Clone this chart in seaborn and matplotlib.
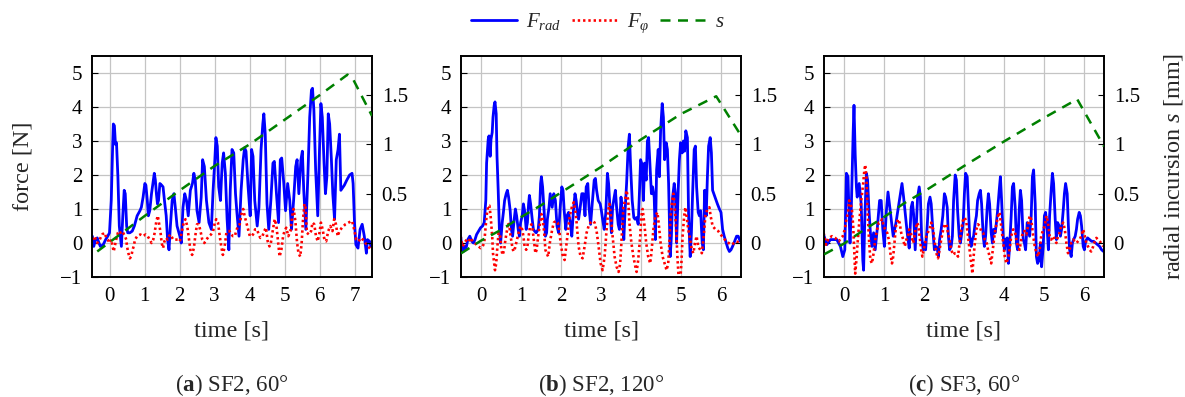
import matplotlib
matplotlib.use("Agg")
import matplotlib.pyplot as plt
from matplotlib.lines import Line2D
import seaborn as sns

# ---------------- data ----------------
# panel (a) SF2, 60 deg
a_t_rad = [-0.49,-0.45,-0.40,-0.35,-0.30,-0.26,-0.18,-0.11,-0.05,0.0,0.05,0.09,0.11,0.14,0.17,0.20,0.24,0.28,0.31,0.34,
           0.38,0.42,0.45,0.49,0.52,0.58,0.65,0.71,0.79,0.87,0.91,0.96,1.01,1.04,1.08,1.11,1.15,1.20,1.24,1.28,
           1.31,1.34,1.37,1.40,1.44,1.49,1.53,1.57,1.62,1.66,1.70,1.74,1.79,1.84,1.88,1.93,2.01,2.05,2.10,2.15,
           2.20,2.25,2.31,2.37,2.41,2.45,2.50,2.56,2.62,2.66,2.71,2.77,2.84,2.91,2.96,3.01,3.04,3.08,3.12,3.17,
           3.22,3.26,3.31,3.36,3.41,3.45,3.50,3.55,3.60,3.64,3.70,3.76,3.82,3.86,3.90,3.96,4.02,4.06,4.10,4.15,
           4.22,4.27,4.33,4.38,4.41,4.45,4.50,4.55,4.61,4.67,4.71,4.77,4.83,4.88,4.92,4.98,5.03,5.09,5.15,5.20,
           5.26,5.32,5.36,5.41,5.47,5.51,5.55,5.61,5.67,5.72,5.77,5.80,5.84,5.89,5.95,6.00,6.04,6.08,6.13,6.17,
           6.21,6.25,6.29,6.34,6.38,6.43,6.48,6.53,6.57,6.61,6.71,6.78,6.86,6.93,6.96,7.00,7.04,7.10,7.16,7.22,
           7.28,7.34,7.37,7.43,7.47]
a_rad = [0.2,-0.1,0.1,0.15,0.0,-0.1,-0.05,0.1,0.2,0.3,1.25,2.85,3.5,3.45,2.9,2.95,1.95,0.5,0.2,-0.1,
         0.8,1.55,1.45,0.5,0.3,0.3,0.35,0.5,0.8,0.95,1.05,1.35,1.75,1.7,1.25,0.8,0.95,1.45,1.75,2.05,
         1.85,1.45,1.15,1.25,1.75,1.7,1.65,1.25,0.8,0.1,-0.2,0.5,1.25,1.45,1.05,0.5,0.2,0.0,1.05,1.45,
         1.25,0.8,1.55,1.75,2.05,1.85,0.95,0.6,1.35,2.45,2.25,1.25,0.6,0.4,1.55,2.45,3.1,2.85,1.65,1.25,
         2.35,2.65,2.05,0.7,-0.2,1.55,2.75,2.65,1.45,0.9,0.2,1.55,2.45,2.8,2.7,1.65,0.8,2.75,2.55,1.25,
         0.5,1.05,2.75,3.5,3.8,3.2,1.15,0.4,1.25,2.35,2.4,1.45,0.6,2.45,2.5,1.75,0.95,1.75,1.25,0.4,
         1.25,2.25,2.45,1.45,2.45,2.7,1.55,0.4,2.05,3.7,4.5,4.55,3.9,2.15,0.8,2.75,4.1,3.7,2.35,1.45,
         1.95,3.8,3.5,2.45,1.45,0.7,2.45,2.75,3.2,1.55,1.7,1.85,2.0,2.05,1.75,0.6,-0.05,-0.15,0.4,0.55,
         0.2,-0.3,0.1,0.05,-0.1]
a_t_phi = [-0.49,-0.43,-0.35,-0.28,-0.21,-0.14,-0.09,-0.05,0.0,0.05,0.09,0.12,0.15,0.19,0.24,0.28,0.31,0.35,0.39,0.44,
           0.48,0.50,0.54,0.58,0.62,0.66,0.69,0.73,0.79,0.88,0.96,1.03,1.09,1.15,1.20,1.25,1.29,1.34,1.38,1.42,
           1.46,1.49,1.53,1.57,1.62,1.66,1.70,1.74,1.82,1.88,1.95,2.01,2.07,2.12,2.17,2.22,2.26,2.31,2.36,2.41,
           2.45,2.50,2.55,2.60,2.65,2.71,2.77,2.84,2.90,2.96,3.01,3.05,3.10,3.15,3.20,3.24,3.29,3.34,3.39,3.43,
           3.48,3.53,3.58,3.62,3.67,3.72,3.77,3.82,3.86,3.91,3.96,4.01,4.05,4.10,4.16,4.22,4.26,4.31,4.37,4.42,
           4.47,4.52,4.57,4.61,4.67,4.72,4.77,4.81,4.86,4.91,4.96,5.00,5.05,5.11,5.17,5.22,5.26,5.31,5.36,5.40,
           5.45,5.49,5.53,5.57,5.60,5.64,5.70,5.76,5.80,5.85,5.90,5.95,6.00,6.04,6.09,6.14,6.19,6.25,6.31,6.37,
           6.42,6.47,6.52,6.57,6.64,6.74,6.83,6.93,6.99,7.05,7.12,7.18,7.24,7.31,7.37,7.43,7.47]
a_phi = [0.1,0.2,0.0,0.1,0.25,0.3,0.15,0.1,0.0,0.1,-0.1,-0.25,-0.1,0.1,0.3,0.35,0.3,0.35,0.3,0.2,
         0.1,-0.1,-0.3,-0.45,-0.4,-0.2,-0.1,0.1,0.2,0.25,0.2,0.25,0.2,0.1,0.0,0.1,0.3,0.65,0.8,0.55,
         0.3,0.0,-0.15,0.05,0.15,0.1,0.2,0.25,0.1,0.1,0.1,0.05,0.35,0.6,0.7,0.5,0.2,-0.2,-0.35,-0.15,
         0.2,0.55,0.55,0.35,0.1,0.0,0.1,0.2,0.25,0.35,0.6,0.7,0.6,0.2,-0.15,-0.35,-0.1,0.3,0.35,0.35,
         0.25,0.2,0.2,0.35,0.5,0.55,0.85,1.0,0.8,0.6,0.4,0.2,0.2,0.25,0.4,0.4,0.25,0.15,0.2,0.35,
         0.45,0.05,-0.1,0.0,0.4,0.7,0.5,0.1,-0.4,-0.2,0.2,0.35,0.45,0.2,0.35,0.8,1.0,0.65,0.0,-0.3,
         -0.4,0.0,0.7,1.15,1.05,0.3,0.25,0.35,0.6,0.55,0.2,0.05,0.3,0.6,0.4,0.1,0.05,0.35,0.5,0.35,
         0.7,0.55,0.2,0.35,0.45,0.55,0.6,0.65,0.4,0.1,0.05,0.15,0.1,0.0,-0.05,-0.15,-0.2]
a_t_s = [-0.35, 1.0, 2.0, 3.0, 4.0, 5.0, 6.0, 6.8, 6.95, 7.5]
a_s = [-0.09, 0.27, 0.53, 0.78, 1.00, 1.25, 1.50, 1.71, 1.67, 1.29]

# panel (b) SF2, 120 deg
b_t_rad = [-0.51,-0.48,-0.44,-0.41,-0.38,-0.33,-0.28,-0.23,-0.19,-0.15,-0.11,-0.06,-0.01,0.04,0.08,0.12,0.14,0.18,0.20,0.23,
           0.25,0.28,0.30,0.33,0.35,0.38,0.40,0.43,0.46,0.49,0.53,0.56,0.59,0.63,0.66,0.69,0.73,0.76,0.79,0.83,
           0.86,0.89,0.93,0.96,0.99,1.03,1.06,1.09,1.13,1.16,1.19,1.21,1.24,1.28,1.31,1.34,1.38,1.43,1.46,1.49,
           1.51,1.54,1.58,1.61,1.64,1.66,1.70,1.73,1.78,1.82,1.86,1.90,1.94,1.98,2.02,2.05,2.08,2.12,2.15,2.19,
           2.23,2.27,2.31,2.35,2.38,2.41,2.44,2.48,2.52,2.56,2.60,2.63,2.67,2.70,2.74,2.78,2.83,2.86,2.89,2.93,
           2.98,3.01,3.04,3.08,3.12,3.16,3.19,3.23,3.26,3.29,3.33,3.36,3.39,3.43,3.46,3.50,3.53,3.57,3.60,3.64,
           3.68,3.71,3.74,3.78,3.82,3.85,3.89,3.93,3.96,3.99,4.03,4.06,4.09,4.13,4.16,4.19,4.23,4.26,4.29,4.33,
           4.36,4.39,4.43,4.46,4.49,4.53,4.56,4.59,4.63,4.66,4.69,4.73,4.76,4.79,4.83,4.86,4.89,4.93,4.96,4.99,
           5.03,5.06,5.09,5.12,5.16,5.19,5.23,5.26,5.29,5.33,5.36,5.39,5.43,5.46,5.49,5.53,5.56,5.59,5.63,5.66,
           5.69,5.73,5.76,5.79,5.85,5.91,5.96,6.00,6.04,6.08,6.13,6.17,6.21,6.25,6.29,6.34,6.39,6.43,6.48]
b_rad = [0.2,-0.1,-0.25,-0.1,-0.2,0.1,0.2,0.05,0.0,0.1,0.25,0.35,0.45,0.5,0.6,1.25,2.35,3.05,3.15,2.55,
         3.05,3.25,3.7,4.05,4.15,3.8,2.55,1.55,0.4,0.0,0.6,0.9,1.25,1.45,1.55,1.35,0.95,0.4,0.2,0.7,
         1.0,0.8,0.4,0.2,0.6,0.8,1.15,0.95,0.4,0.6,1.15,1.4,1.15,0.7,0.4,0.35,0.3,0.4,0.8,1.75,
         1.95,1.65,0.9,0.2,0.3,0.7,1.05,1.45,1.05,1.45,1.25,0.5,0.3,1.05,1.65,1.55,0.95,0.4,0.8,0.9,
         0.6,0.2,0.95,1.45,1.25,0.9,0.7,1.05,1.45,1.45,0.8,1.65,1.75,1.05,0.55,1.15,1.85,1.9,1.55,1.25,
         1.15,0.95,0.7,0.4,0.9,2.05,1.75,0.9,0.3,1.05,1.35,1.55,1.05,0.55,0.4,1.35,0.95,0.1,0.9,1.75,
         2.85,3.2,2.25,1.25,0.75,0.7,0.75,0.55,1.45,2.45,2.3,1.25,2.35,1.85,3.0,3.1,2.15,1.45,1.65,1.35,
         0.1,2.15,2.75,1.95,3.3,4.1,3.7,2.45,2.95,2.75,1.75,-0.4,0.2,1.35,1.75,1.45,0.0,1.55,2.45,2.95,
         2.65,3.0,2.7,3.3,3.1,0.8,-0.4,0.3,1.45,2.75,2.85,1.65,0.9,0.8,0.95,0.0,-0.2,1.55,0.8,1.95,
         2.85,3.1,2.65,1.55,1.35,1.15,1.0,0.9,0.4,0.2,0.0,-0.15,-0.25,-0.2,-0.1,0.05,0.2,0.2,0.05]
b_t_phi = [-0.51,-0.46,-0.41,-0.36,-0.31,-0.26,-0.21,-0.16,-0.11,-0.06,-0.01,0.04,0.08,0.11,0.14,0.18,0.21,0.24,0.28,0.30,
           0.33,0.35,0.38,0.41,0.44,0.48,0.51,0.54,0.58,0.61,0.64,0.68,0.71,0.74,0.78,0.81,0.84,0.88,0.91,0.96,
           0.99,1.03,1.06,1.09,1.13,1.16,1.19,1.23,1.26,1.29,1.33,1.36,1.39,1.44,1.48,1.51,1.54,1.58,1.61,1.64,
           1.68,1.72,1.78,1.82,1.88,1.92,1.96,1.99,2.04,2.09,2.12,2.18,2.22,2.27,2.32,2.36,2.39,2.44,2.49,2.54,
           2.59,2.64,2.69,2.74,2.79,2.84,2.89,2.94,2.99,3.04,3.09,3.14,3.18,3.21,3.24,3.29,3.34,3.39,3.44,3.48,
           3.52,3.56,3.60,3.64,3.68,3.71,3.76,3.81,3.86,3.89,3.93,3.98,4.01,4.04,4.08,4.13,4.18,4.23,4.26,4.31,
           4.36,4.41,4.44,4.49,4.54,4.59,4.64,4.68,4.71,4.74,4.78,4.81,4.84,4.88,4.91,4.94,4.98,5.01,5.04,5.08,
           5.11,5.14,5.18,5.23,5.27,5.31,5.35,5.39,5.43,5.48,5.52,5.56,5.61,5.66,5.71,5.74,5.79,5.86,5.93,5.99,
           6.06,6.13,6.19,6.26,6.33,6.39,6.46]
b_phi = [0.2,-0.1,0.0,0.1,0.05,0.15,0.05,0.0,-0.05,-0.1,-0.15,-0.1,0.0,0.4,0.8,1.1,1.1,0.8,0.2,-0.3,
         -0.6,-0.8,-0.6,-0.1,0.3,0.2,-0.2,-0.35,-0.2,0.1,0.3,0.6,0.5,0.2,-0.1,-0.25,-0.2,0.0,0.15,0.4,
         0.5,0.4,0.2,-0.1,-0.2,-0.1,0.2,0.5,0.55,0.4,0.0,-0.3,-0.2,0.3,0.6,0.85,0.75,0.3,-0.2,-0.3,
         -0.4,0.0,0.4,0.6,0.65,0.6,0.35,0.0,-0.35,-0.5,-0.2,0.4,0.8,1.05,1.2,0.95,0.6,-0.1,-0.4,-0.45,
         -0.1,0.3,0.5,0.6,0.65,0.6,0.35,-0.1,-0.6,-0.8,-0.4,0.4,0.95,1.15,0.9,0.2,-0.4,-0.7,-0.85,-0.6,
         0.2,1.05,1.25,1.55,1.25,0.6,0.0,-0.4,-0.7,-0.85,-0.5,0.2,0.8,1.0,0.6,0.0,-0.4,-0.6,-0.3,0.4,
         0.8,0.9,0.6,0.0,-0.4,-0.6,-0.8,-0.6,0.0,0.8,1.25,1.45,1.15,0.4,-0.4,-1.0,-1.1,-0.6,0.2,0.8,
         1.05,0.8,0.4,0.1,-0.2,-0.3,0.0,0.2,-0.1,-0.2,-0.3,0.1,0.8,1.0,1.05,0.8,0.5,0.4,0.35,0.25,
         0.15,0.05,0.0,-0.05,0.0,0.05,0.0]
b_t_s = [-0.5, 0.0, 0.5, 1.0, 1.5, 2.0, 2.5, 3.0, 4.0, 5.0, 5.88, 6.5]
b_s = [-0.11, 0.02, 0.13, 0.26, 0.38, 0.51, 0.64, 0.77, 1.05, 1.31, 1.49, 1.09]

# panel (c) SF3, 60 deg
c_t_rad = [-0.51,-0.43,-0.34,-0.18,-0.09,-0.03,0.02,0.06,0.10,0.13,0.15,0.18,0.23,0.25,0.28,0.31,0.33,0.38,0.43,0.47,
           0.49,0.52,0.56,0.59,0.62,0.66,0.70,0.74,0.78,0.83,0.89,0.93,0.97,1.01,1.06,1.10,1.16,1.23,1.30,1.45,
           1.49,1.58,1.63,1.68,1.71,1.74,1.78,1.81,1.84,1.88,1.91,1.94,1.98,2.01,2.04,2.08,2.11,2.15,2.18,2.22,
           2.26,2.29,2.33,2.36,2.39,2.43,2.47,2.51,2.54,2.58,2.61,2.64,2.68,2.71,2.74,2.78,2.81,2.84,2.88,2.91,
           2.94,2.98,3.01,3.04,3.08,3.11,3.14,3.18,3.21,3.24,3.28,3.31,3.34,3.38,3.41,3.44,3.48,3.51,3.54,3.58,
           3.61,3.64,3.68,3.71,3.74,3.78,3.81,3.84,3.88,3.91,3.94,3.98,4.01,4.04,4.08,4.11,4.14,4.18,4.21,4.24,
           4.28,4.31,4.34,4.38,4.41,4.44,4.48,4.51,4.54,4.58,4.61,4.64,4.68,4.71,4.74,4.78,4.81,4.84,4.88,4.91,
           4.94,4.98,5.01,5.04,5.08,5.11,5.14,5.18,5.21,5.24,5.28,5.31,5.34,5.38,5.41,5.44,5.48,5.51,5.54,5.58,
           5.61,5.64,5.68,5.71,5.74,5.78,5.81,5.84,5.88,5.91,5.94,5.98,6.01,6.04,6.09,6.14,6.19,6.24,6.29,6.34,
           6.39,6.44,6.49]
c_rad = [0.25,-0.05,0.1,0.1,-0.1,-0.4,-0.2,2.05,1.95,0.7,0.0,0.9,3.3,4.05,2.6,1.65,1.35,1.75,1.15,-0.5,
         -0.8,0.7,2.05,1.85,1.05,0.3,-0.1,0.3,-0.2,0.4,1.25,1.25,0.4,-0.1,0.95,1.5,0.9,0.2,0.6,1.75,
         1.35,0.3,-0.15,1.05,1.2,0.85,-0.2,0.6,1.35,1.65,1.35,0.2,-0.2,0.0,-0.2,0.5,1.15,1.35,1.15,0.4,
         -0.2,-0.1,-0.15,-0.4,0.1,0.4,0.8,1.45,1.35,1.05,0.2,-0.2,-0.1,0.2,1.25,2.0,1.85,0.95,0.2,0.0,
         0.25,0.6,1.45,2.05,1.95,1.05,0.2,-0.1,0.1,0.2,0.6,0.8,1.25,1.45,1.55,1.15,0.2,-0.1,0.2,1.05,
         1.45,1.15,0.3,0.0,0.4,0.3,0.6,0.95,1.55,1.95,1.25,0.2,-0.2,0.1,0.15,-0.6,-0.1,0.8,1.65,1.75,
         1.05,0.0,-0.2,0.95,1.55,1.25,0.1,0.0,-0.2,0.6,0.4,0.2,0.8,1.95,2.15,1.15,-0.4,-0.6,-0.5,0.0,
         -0.7,-0.1,0.8,0.9,0.4,-0.2,0.8,1.55,2.05,1.75,0.7,0.1,0.6,0.5,0.2,0.4,0.95,1.45,1.75,1.45,
         0.5,-0.2,-0.4,0.0,0.1,0.2,0.4,0.7,0.9,0.8,0.5,-0.1,-0.2,0.05,0.15,0.1,0.05,0.05,0.0,-0.05,
         -0.1,-0.2,-0.25]
c_t_phi = [-0.51,-0.45,-0.38,-0.30,-0.22,-0.13,-0.07,-0.03,0.02,0.06,0.10,0.13,0.17,0.20,0.23,0.26,0.28,0.31,0.34,0.38,
           0.43,0.48,0.51,0.53,0.56,0.59,0.63,0.66,0.70,0.74,0.78,0.83,0.87,0.91,0.95,0.99,1.03,1.08,1.12,1.16,
           1.20,1.23,1.27,1.30,1.35,1.39,1.43,1.48,1.52,1.56,1.60,1.63,1.66,1.69,1.73,1.76,1.79,1.83,1.86,1.89,
           1.93,1.96,1.99,2.03,2.06,2.09,2.14,2.18,2.23,2.27,2.31,2.35,2.39,2.43,2.48,2.52,2.56,2.59,2.64,2.68,
           2.73,2.77,2.81,2.85,2.89,2.93,2.98,3.02,3.06,3.10,3.14,3.18,3.21,3.24,3.28,3.31,3.35,3.39,3.43,3.48,
           3.52,3.56,3.60,3.64,3.68,3.73,3.77,3.81,3.85,3.89,3.93,3.98,4.02,4.06,4.11,4.14,4.18,4.23,4.27,4.31,
           4.35,4.39,4.43,4.48,4.52,4.56,4.60,4.64,4.68,4.73,4.77,4.81,4.85,4.89,4.93,4.98,5.02,5.06,5.10,5.14,
           5.18,5.23,5.27,5.31,5.35,5.39,5.43,5.48,5.52,5.56,5.60,5.64,5.68,5.73,5.77,5.81,5.85,5.89,5.93,5.98,
           6.02,6.06,6.10,6.14,6.18,6.23,6.27,6.31,6.35,6.39,6.43,6.48]
c_phi = [0.3,-0.05,0.15,0.2,0.15,0.05,0.15,0.2,0.4,0.7,0.9,1.25,1.15,0.95,0.5,-0.3,-0.9,-0.5,0.0,0.6,
         1.25,1.75,2.15,2.3,1.95,0.9,0.0,-0.5,-0.6,-0.3,0.1,0.4,0.6,0.6,0.7,0.5,0.4,0.3,0.1,-0.3,
         -0.6,-0.4,0.1,0.5,0.7,0.6,0.3,0.1,-0.1,0.1,0.2,0.4,0.35,0.2,0.0,0.2,0.4,0.6,0.5,0.2,
         -0.2,-0.4,-0.2,0.0,0.2,0.3,0.4,0.6,0.4,0.0,-0.3,-0.45,-0.2,0.1,0.4,0.55,0.55,0.35,0.1,-0.2,
         -0.35,-0.3,-0.3,-0.4,0.0,0.4,0.7,0.75,0.6,0.2,-0.2,-0.6,-0.9,-0.4,0.1,0.4,0.55,0.5,0.35,0.3,
         0.1,0.05,-0.2,-0.4,-0.6,-0.1,0.3,0.55,0.8,0.9,0.5,0.0,-0.4,-0.6,-0.4,-0.2,0.2,0.4,0.35,0.1,
         -0.1,-0.2,0.1,0.35,0.35,0.25,0.5,0.8,0.7,0.2,-0.1,-0.3,-0.4,-0.2,0.2,0.4,0.5,0.8,0.6,0.2,
         0.1,0.2,0.1,0.0,0.2,0.3,0.5,0.6,0.4,0.0,-0.3,-0.2,0.0,0.1,0.05,0.0,0.05,0.1,0.2,0.4,
         0.2,0.0,-0.1,-0.2,-0.25,-0.1,0.05,0.15,0.1,0.05,0.0,-0.1]
c_t_s = [-0.5, 0.0, 0.5, 1.0, 1.5, 2.0, 3.0, 4.0, 5.0, 5.83, 6.5]
c_s = [-0.12, -0.01, 0.13, 0.26, 0.40, 0.52, 0.78, 1.03, 1.27, 1.46, 0.98]

panels = [
    dict(t_rad=a_t_rad, rad=a_rad, t_phi=a_t_phi, phi=a_phi, t_s=a_t_s, s=a_s,
         xlim=(-0.5, 7.5), xticks=list(range(0, 8)), cap=("a", "SF2, 60°")),
    dict(t_rad=b_t_rad, rad=b_rad, t_phi=b_t_phi, phi=b_phi, t_s=b_t_s, s=b_s,
         xlim=(-0.5, 6.5), xticks=list(range(0, 7)), cap=("b", "SF2, 120°")),
    dict(t_rad=c_t_rad, rad=c_rad, t_phi=c_t_phi, phi=c_phi, t_s=c_t_s, s=c_s,
         xlim=(-0.5, 6.5), xticks=list(range(0, 7)), cap=("c", "SF3, 60°")),
]
force_ticks = [-1, 0, 1, 2, 3, 4, 5]
s_ticks = [0, 0.5, 1, 1.5]
s_ticklabels = ["0", "0.5", "1", "1.5"]

# ---------------- style ----------------
sns.set_theme(style="white")
plt.rcParams["font.family"] = ["Liberation Serif", "DejaVu Serif"]
plt.rcParams["mathtext.fontset"] = "custom"
plt.rcParams["mathtext.rm"] = "Liberation Serif"
plt.rcParams["mathtext.it"] = "Liberation Serif:italic"
plt.rcParams["mathtext.bf"] = "Liberation Serif:bold"
plt.rcParams["axes.unicode_minus"] = True

BLUE, RED, GREEN = "#0000ff", "#ff0000", "#008000"
FS_TICK = 15
FS_LAB = 17.5
FS_LEG = 15
FS_CAP = 16.5
DOT = (0, (0.9, 1.1))

W, H = 1185, 397
fig = plt.figure(figsize=(W / 100, H / 100), dpi=100)
lefts = [92, 461, 824]
ax_w, ax_top, ax_bot = 280, 56, 277
ax_h = ax_bot - ax_top

for i, p in enumerate(panels):
    l = lefts[i]
    ax = fig.add_axes([l / W, 1 - ax_bot / H, ax_w / W, ax_h / H])
    sns.lineplot(x=p["t_rad"], y=p["rad"], ax=ax, color=BLUE, lw=2.0, estimator=None, sort=False)
    sns.lineplot(x=p["t_phi"], y=p["phi"], ax=ax, color=RED, lw=1.9, estimator=None, sort=False)
    ax.lines[-1].set_linestyle(DOT)
    ax.set_xlim(*p["xlim"])
    ax.set_ylim(-1, 5.5)
    ax.set_xticks(p["xticks"])
    ax.set_yticks(force_ticks)
    ax.grid(True, color="#c4c4c4", lw=0.9)
    ax.set_axisbelow(True)
    for sp in ax.spines.values():
        sp.set_visible(True)
        sp.set_color("black")
        sp.set_linewidth(1.4)
    ax.tick_params(direction="in", length=4, width=0.8, labelsize=FS_TICK, pad=7, colors="black")
    ax.set_xlabel("time [s]", fontsize=FS_LAB)
    ax.xaxis.set_label_coords(0.5, -(321 - ax_bot) / ax_h)
    if i == 0:
        ax.set_ylabel("force [N]", fontsize=FS_LAB)
        ax.yaxis.set_label_coords((33 - l) / ax_w, 0.5)

    ax2 = ax.twinx()
    sns.lineplot(x=p["t_s"], y=p["s"], ax=ax2, color=GREEN, lw=1.8, estimator=None, sort=False)
    ax2.lines[-1].set_dashes([4.0, 3.0])
    ax2.set_ylim(-0.35, 1.9)
    ax2.set_yticks(s_ticks)
    ax2.set_yticklabels(s_ticklabels)
    ax2.grid(False)
    ax2.tick_params(direction="in", length=4, width=0.8, labelsize=FS_TICK, pad=7, colors="black")
    for sp in ax2.spines.values():
        sp.set_visible(False)
    if i == 2:
        ax2.set_ylabel("radial incursion $s$ [mm]", fontsize=FS_LAB)
        ax2.yaxis.set_label_coords((1162 - l) / ax_w, 0.5)

    cx = (l + ax_w / 2) / W
    fig.text(cx, 1 - 385 / H, r"($\mathbf{%s}$) %s" % p["cap"], ha="center", va="center",
             fontsize=FS_CAP)

handles = [
    Line2D([], [], color=BLUE, lw=2.0),
    Line2D([], [], color=RED, lw=1.9, linestyle=DOT),
    Line2D([], [], color=GREEN, lw=1.8, dashes=[4.0, 3.0]),
]
fig.legend(handles, [r"$F_{rad}$", r"$F_{\varphi}$", r"$s$"], loc="center",
           bbox_to_anchor=(598 / W, 1 - 23 / H), ncol=3, frameon=False, fontsize=FS_LEG,
           handlelength=2.2, handletextpad=0.45, columnspacing=0.5)

fig.savefig("out.png", dpi=100)
